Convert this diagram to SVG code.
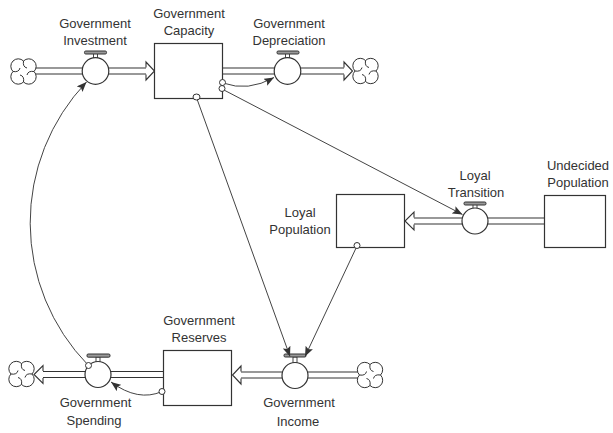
<svg xmlns="http://www.w3.org/2000/svg" width="613" height="433" viewBox="0 0 613 433">
<defs>
<style>
text{font-family:"Liberation Sans",Arial,sans-serif;font-size:13px;fill:#333;text-anchor:middle}
.box{fill:#fff;stroke:#333;stroke-width:1.2}
.po{stroke:#333;stroke-width:7;fill:none}
.pi{stroke:#fff;stroke-width:5;fill:none}
.ah{fill:#fff;stroke:#333;stroke-width:1.1}
.vc{fill:#fff;stroke:#333;stroke-width:1.2}
.bar{fill:#999;stroke:#333;stroke-width:1}
.stem{fill:#fff;stroke:#333;stroke-width:0.9}
.cl{fill:#fff;stroke:#333;stroke-width:1}
.cn{fill:none;stroke:#444;stroke-width:1}
.dot{fill:#fff;stroke:#333;stroke-width:1}
</style>
<marker id="arr" markerWidth="10" markerHeight="8" refX="10" refY="4" orient="auto" markerUnits="userSpaceOnUse">
<path d="M0,0 L10,4 L0,8 L2,4 Z" fill="#333"/>
</marker>
<g id="cloud">
<path class="cl" d="M0,-10.5 A7.3,7.3 0 0 1 10.5,0 A7.3,7.3 0 0 1 0,10.5 A7.3,7.3 0 0 1 -10.5,0 A7.3,7.3 0 0 1 0,-10.5 Z"/>
<path class="cl" fill="none" d="M0,-10.5 Q-1,-4.5 3.5,-3.5 M10.5,0 Q4.5,-1 3.5,3.5 M0,10.5 Q1,4.5 -3.5,3.5 M-10.5,0 Q-4.5,1 -3.5,-3.5"/>
</g>
</defs>
<rect width="613" height="433" fill="#fff"/>

<g id="pipes">
<path class="po" d="M34,71 H146"/><path class="pi" d="M34,71 H146"/>
<path class="ah" d="M146,67.5 V62 L154.5,71 L146,80 V74.5"/>
<path class="po" d="M222,71 H344"/><path class="pi" d="M222,71 H344"/>
<path class="ah" d="M344,67.5 V62 L352.5,71 L344,80 V74.5"/>
<path class="po" d="M544,221 H414"/><path class="pi" d="M544,221 H414"/>
<path class="ah" d="M414,217.5 V212 L405,221 L414,230 V224.5"/>
<path class="po" d="M358,375 H241"/><path class="pi" d="M358,375 H241"/>
<path class="ah" d="M241,371.5 V366 L232.5,375 L241,384 V378.5"/>
<path class="po" d="M163,374.5 H43"/><path class="pi" d="M163,374.5 H43"/>
<path class="ah" d="M43,371 V365.5 L34,374.5 L43,383.5 V378"/>
</g>

<g id="clouds">
<use href="#cloud" x="23.5" y="71.5"/>
<use href="#cloud" x="365.5" y="71"/>
<use href="#cloud" x="21.5" y="374"/>
<use href="#cloud" x="370" y="375"/>
</g>

<g id="gov-capacity">
<rect class="box" x="154.5" y="43.5" width="68" height="55"/>
<text x="189" y="18">Government</text><text x="189" y="35">Capacity</text>
</g>
<g id="loyal-population">
<rect class="box" x="336.5" y="194.5" width="68" height="53"/>
<text x="300" y="216.5">Loyal</text><text x="300" y="233.5">Population</text>
</g>
<g id="undecided-population">
<rect class="box" x="544.5" y="195.5" width="61" height="52"/>
<text x="578" y="170">Undecided</text><text x="578" y="187">Population</text>
</g>
<g id="gov-reserves">
<rect class="box" x="163.5" y="350.5" width="68" height="55"/>
<text x="199" y="325">Government</text><text x="199" y="342">Reserves</text>
</g>

<g id="gov-investment">
<rect class="stem" x="93.5" y="53.5" width="4" height="5"/>
<rect class="bar" x="84.5" y="51" width="22" height="3" rx="1.2"/>
<circle class="vc" cx="95.5" cy="71" r="13.3"/>
<text x="95" y="27.5">Government</text><text x="95" y="44.5">Investment</text>
</g>
<g id="gov-depreciation">
<rect class="stem" x="285.5" y="53.5" width="4" height="5"/>
<rect class="bar" x="277" y="51" width="22" height="3" rx="1.2"/>
<circle class="vc" cx="287.5" cy="71" r="13.3"/>
<text x="289" y="27.5">Government</text><text x="289" y="44.5">Depreciation</text>
</g>
<g id="loyal-transition">
<rect class="stem" x="473" y="204.5" width="4" height="4.5"/>
<rect class="bar" x="464" y="202" width="22" height="3" rx="1.2"/>
<circle class="vc" cx="475" cy="221" r="13"/>
<text x="475" y="180">Loyal</text><text x="476" y="197">Transition</text>
</g>
<g id="gov-income">
<rect class="stem" x="293" y="357" width="4" height="5.5"/>
<rect class="bar" x="284" y="354" width="22" height="3" rx="1.2"/>
<circle class="vc" cx="295" cy="375.5" r="13"/>
<text x="299" y="407">Government</text><text x="298" y="425.5">Income</text>
</g>
<g id="gov-spending">
<rect class="stem" x="96" y="357" width="4" height="5"/>
<rect class="bar" x="87" y="354" width="23" height="3.2" rx="1.2"/>
<circle class="vc" cx="98" cy="374.5" r="13"/>
<text x="95.5" y="407">Government</text><text x="94" y="424.5">Spending</text>
</g>

<g id="connectors">
<path class="cn" d="M223,83 Q248,92 274,77.5" marker-end="url(#arr)"/>
<path class="cn" d="M222,89 L462.5,214.5" marker-end="url(#arr)"/>
<path class="cn" d="M197,99 L290,356.5" marker-end="url(#arr)"/>
<path class="cn" d="M357,246 L305,356.5" marker-end="url(#arr)"/>
<path class="cn" d="M162,391.5 Q138,402 111,382" marker-end="url(#arr)"/>
<path class="cn" d="M88,365 A204,204 0 0 1 86.5,82" marker-end="url(#arr)"/>
<ellipse class="dot" cx="222.5" cy="82.5" rx="3" ry="3"/>
<ellipse class="dot" cx="222" cy="88.5" rx="3" ry="3"/>
<ellipse class="dot" cx="196.5" cy="97" rx="3.5" ry="3"/>
<ellipse class="dot" cx="357" cy="245.5" rx="3" ry="3"/>
<ellipse class="dot" cx="162" cy="391.5" rx="3" ry="3"/>
<ellipse class="dot" cx="88.5" cy="365.5" rx="3" ry="3"/>
</g>
</svg>
